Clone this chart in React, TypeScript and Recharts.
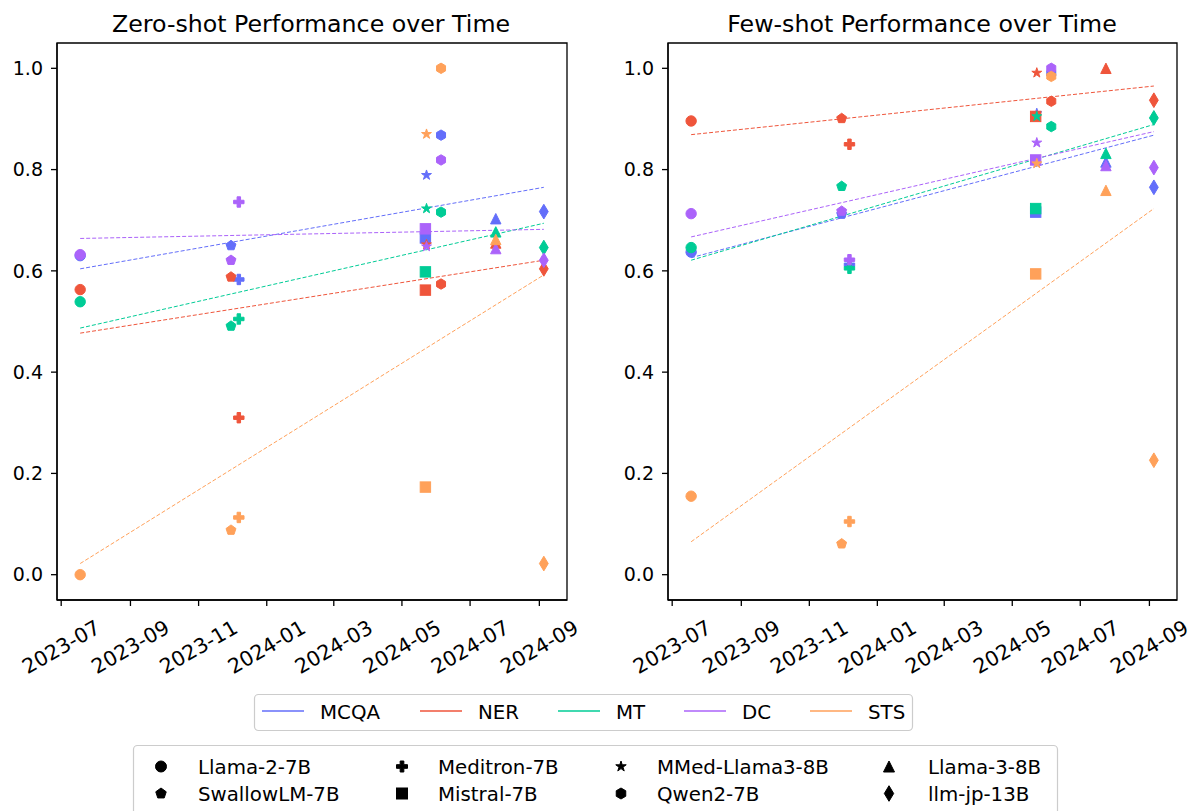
import React from 'react';
import { ScatterChart, Scatter, XAxis, YAxis, ReferenceLine, ReferenceArea } from 'recharts';

// ---------- data ----------
const models = ['Llama-2-7B', 'Meditron-7B', 'MMed-Llama3-8B', 'Llama-3-8B', 'SwallowLM-7B', 'Mistral-7B', 'Qwen2-7B', 'llm-jp-13B'];
const modelDates = ['2023-07-18', '2023-12-07', '2024-05-23', '2024-07-24', '2023-11-30', '2024-05-22', '2024-06-05', '2024-09-05'];
const modelMarkers = ['circle', 'plus', 'star', 'triangle', 'pentagon', 'square', 'hexagon', 'diamond'];

const tasks = ['MCQA', 'NER', 'MT', 'DC', 'STS'];
const taskColors = ['#636EFA', '#EF553B', '#00CC96', '#AB63FA', '#FFA15A'];

// zero-shot scores (model order as in `models`)
const zeroMCQA = [0.630, 0.583, 0.789, 0.703, 0.650, 0.665, 0.868, 0.717];
const zeroNER = [0.563, 0.310, 0.652, 0.655, 0.588, 0.562, 0.574, 0.604];
const zeroMT = [0.539, 0.505, 0.723, 0.677, 0.491, 0.598, 0.716, 0.646];
const zeroDC = [0.632, 0.736, 0.648, 0.644, 0.621, 0.683, 0.819, 0.621];
const zeroSTS = [0.0, 0.113, 0.870, 0.662, 0.088, 0.173, 1.0, 0.022];

// few-shot scores
const fewMCQA = [0.637, 0.612, 0.911, 0.815, 0.712, 0.716, 0.990, 0.765];
const fewNER = [0.896, 0.850, 0.991, 1.0, 0.901, 0.905, 0.935, 0.937];
const fewMT = [0.646, 0.605, 0.905, 0.832, 0.767, 0.723, 0.885, 0.902];
const fewDC = [0.713, 0.622, 0.853, 0.808, 0.718, 0.819, 1.0, 0.804];
const fewSTS = [0.155, 0.105, 0.812, 0.759, 0.061, 0.594, 0.984, 0.226];

// trend line values at first and last release date (task order)
const zeroTrendStart = [0.604, 0.477, 0.487, 0.664, 0.022];
const zeroTrendEnd = [0.765, 0.621, 0.694, 0.682, 0.592];
const fewTrendStart = [0.626, 0.869, 0.621, 0.667, 0.065];
const fewTrendEnd = [0.868, 0.965, 0.889, 0.875, 0.723];

const xTickLabels = ['2023-07', '2023-09', '2023-11', '2024-01', '2024-03', '2024-05', '2024-07', '2024-09'];
const yTicks = [0, 0.2, 0.4, 0.6, 0.8, 1.0];

// ---------- helpers ----------
const DAY = 86400000;
const toDay = (s: string) => Date.parse(s.length === 7 ? s + '-01' : s) / DAY;
const dateNums = modelDates.map(toDay);
const xTickVals = xTickLabels.map(toDay);
const dMin = Math.min(...dateNums);
const dMax = Math.max(...dateNums);
const pad = (dMax - dMin) * 0.05;
const xDomain = [dMin - pad, dMax + pad];
const yDomain = [-0.05, 1.05];

const FONT = 'DejaVu Sans, sans-serif';

function polyPoints(n: number, r: number, cx: number, cy: number, inner?: number) {
  const pts: string[] = [];
  const total = inner ? n * 2 : n;
  for (let i = 0; i < total; i++) {
    const rr = inner ? (i % 2 === 0 ? r : r * inner) : r;
    const a = -Math.PI / 2 + (i * 2 * Math.PI) / total;
    pts.push(`${cx + rr * Math.cos(a)},${cy + rr * Math.sin(a)}`);
  }
  return pts.join(' ');
}

function MarkerShape({ kind, cx, cy, color, size }: { kind: string; cx: number; cy: number; color: string; size: number }) {
  const r = size / 2;
  const common = { fill: color, stroke: color, strokeWidth: 1 };
  switch (kind) {
    case 'circle':
      return <circle cx={cx} cy={cy} r={r} {...common} />;
    case 'plus': {
      const u = size / 6;
      const p = [[-1, -3], [1, -3], [1, -1], [3, -1], [3, 1], [1, 1], [1, 3], [-1, 3], [-1, 1], [-3, 1], [-3, -1], [-1, -1]]
        .map(([a, b]) => `${cx + a * u},${cy + b * u}`).join(' ');
      return <polygon points={p} {...common} />;
    }
    case 'star':
      return <polygon points={polyPoints(5, r, cx, cy, 0.381966)} {...common} />;
    case 'triangle':
      return <polygon points={`${cx},${cy - r} ${cx - r},${cy + r} ${cx + r},${cy + r}`} {...common} />;
    case 'pentagon':
      return <polygon points={polyPoints(5, r, cx, cy)} {...common} />;
    case 'square':
      return <rect x={cx - r} y={cy - r} width={size} height={size} {...common} />;
    case 'hexagon':
      return <polygon points={polyPoints(6, r, cx, cy)} {...common} />;
    case 'diamond': {
      const h = size * 0.7071;
      const w = size * 0.7071 * 0.6;
      return <polygon points={`${cx},${cy - h} ${cx + w},${cy} ${cx},${cy + h} ${cx - w},${cy}`} {...common} />;
    }
    default:
      return null;
  }
}

const XTick = (props: any) => {
  const { x, payload } = props;
  const idx = xTickVals.indexOf(payload.value);
  const label = idx >= 0 ? xTickLabels[idx] : '';
  return (
    <g transform={`translate(${x},647)`}>
      <text x={0} y={0} transform="rotate(-30)" textAnchor="middle" dominantBaseline="central" fontSize={20.5} fontFamily={FONT} fill="#000">
        {label}
      </text>
    </g>
  );
};

function Panel({ scores, trendStart, trendEnd, width, yAxisWidth, marginRight }: any) {
  return (
    <ScatterChart width={width} height={700} margin={{ top: 43, right: marginRight, bottom: 10, left: 0 }} style={{ overflow: 'visible' }}>
      <XAxis
        type="number"
        dataKey="x"
        domain={xDomain}
        ticks={xTickVals}
        allowDataOverflow
        height={90}
        tick={<XTick />}
        tickSize={6}
        tickLine={{ stroke: '#000', strokeWidth: 1.3 }}
        axisLine={{ stroke: '#000', strokeWidth: 1.3 }}
        interval={0}
      />
      <YAxis
        type="number"
        dataKey="y"
        domain={yDomain}
        ticks={yTicks}
        allowDataOverflow
        width={yAxisWidth}
        tickSize={6}
        tickMargin={8}
        tickFormatter={(v: number) => v.toFixed(1)}
        tick={{ fontSize: 19, fill: '#000', fontFamily: FONT }}
        tickLine={{ stroke: '#000', strokeWidth: 1.3 }}
        axisLine={{ stroke: '#000', strokeWidth: 1.3 }}
        interval={0}
      />
      <ReferenceArea x1={xDomain[0]} x2={xDomain[1]} y1={yDomain[0]} y2={yDomain[1]} fill="none" stroke="#000" strokeWidth={1.3} ifOverflow="visible" />
      {tasks.map((t, ti) => (
        <Scatter
          key={t}
          name={t}
          isAnimationActive={false}
          data={models.map((m, mi) => ({ x: dateNums[mi], y: scores[ti][mi], marker: modelMarkers[mi] }))}
          shape={(p: any) => <MarkerShape kind={p.payload.marker} cx={p.cx} cy={p.cy} color={taskColors[ti]} size={10.4} />}
        />
      ))}
      {tasks.map((t, ti) => (
        <ReferenceLine
          key={'tr' + t}
          segment={[{ x: dMin, y: trendStart[ti] }, { x: dMax, y: trendEnd[ti] }]}
          stroke={taskColors[ti]}
          strokeWidth={1}
          strokeDasharray="4 2"
        />
      ))}
    </ScatterChart>
  );
}

const legendTaskX = [262, 420, 558, 684, 810];
const legendModelCols = [161, 402, 621, 889];
const legendModelTextX = [198, 438, 657, 928];
const legendModelOrder = [[0, 1, 2, 3], [4, 5, 6, 7]];

export default function App() {
  const zeroScores = [zeroMCQA, zeroNER, zeroMT, zeroDC, zeroSTS];
  const fewScores = [fewMCQA, fewNER, fewMT, fewDC, fewSTS];
  return (
    <div style={{ position: 'absolute', left: 0, top: 0, width: 1191, height: 811, overflow: 'hidden', background: '#fff' }}>
      <div style={{ position: 'absolute', left: 0, top: 0 }}>
        <Panel scores={zeroScores} trendStart={zeroTrendStart} trendEnd={zeroTrendEnd} width={600} yAxisWidth={57} marginRight={33} />
      </div>
      <div style={{ position: 'absolute', left: 600, top: 0 }}>
        <Panel scores={fewScores} trendStart={fewTrendStart} trendEnd={fewTrendEnd} width={591} yAxisWidth={68} marginRight={14} />
      </div>
      <svg width={1191} height={811} style={{ position: 'absolute', left: 0, top: 0, pointerEvents: 'none' }}>
        <text x={311} y={31.5} textAnchor="middle" fontSize={23.7} fontFamily={FONT} fill="#000">Zero-shot Performance over Time</text>
        <text x={922} y={31.5} textAnchor="middle" fontSize={23.7} fontFamily={FONT} fill="#000">Few-shot Performance over Time</text>

        <rect x={254.5} y={694.5} width={658} height={36} rx={4} fill="#fff" stroke="#cccccc" strokeWidth={1.2} />
        {tasks.map((t, ti) => (
          <g key={t}>
            <line x1={legendTaskX[ti]} x2={legendTaskX[ti] + 42} y1={711} y2={711} stroke={taskColors[ti]} strokeWidth={1.6} />
            <text x={legendTaskX[ti] + 58} y={718.5} fontSize={19.8} fontFamily={FONT} fill="#000">{t}</text>
          </g>
        ))}

        <rect x={133.5} y={745.5} width={924} height={90} rx={4} fill="#fff" stroke="#cccccc" strokeWidth={1.2} />
        {legendModelOrder.map((row, ri) =>
          row.map((mi, ci) => (
            <g key={models[mi]}>
              <MarkerShape kind={modelMarkers[mi]} cx={legendModelCols[ci]} cy={766.5 + ri * 27} color="#000" size={11} />
              <text x={legendModelTextX[ci]} y={773.5 + ri * 27} fontSize={19.8} fontFamily={FONT} fill="#000">{models[mi]}</text>
            </g>
          ))
        )}
      </svg>
    </div>
  );
}
